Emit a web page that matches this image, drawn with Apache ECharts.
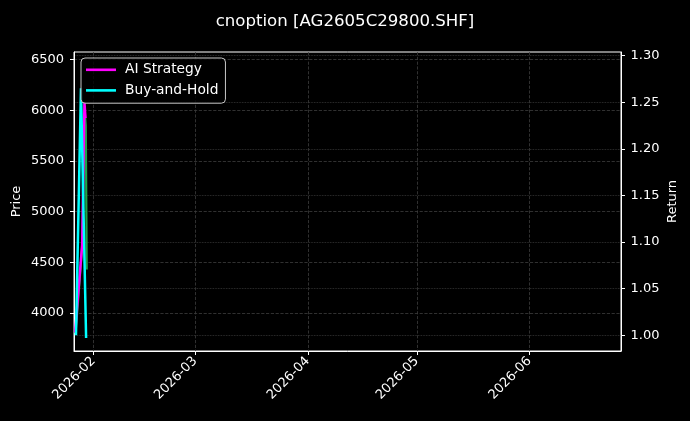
<!DOCTYPE html>
<html>
<head>
<meta charset="utf-8">
<script src="https://cdn.jsdelivr.net/npm/echarts@6/dist/echarts.min.js"></script>
<style>
  html, body { margin: 0; padding: 0; background: #000; }
  #chart { width: 690px; height: 421px; }
</style>
</head>
<body>
<div id="chart"></div>
<script>
// price (left axis)
const priceTimes = ['2026-01-27 02:00', '2026-01-27 18:00', '2026-01-29 00:00', '2026-01-29 14:00', '2026-01-29 22:00', '2026-01-30 04:00']
const priceValues = [3800, 4100, 4700, 6000, 5850, 4430]

// returns (right axis)
const aiTimes = ['2026-01-27 00:00', '2026-01-27 14:00', '2026-01-28 22:00', '2026-01-29 13:00', '2026-01-29 20:00']
const aiValues = [1.003, 1.033, 1.097, 1.25, 1.233]
const bhTimes = ['2026-01-27 05:00', '2026-01-28 14:00', '2026-01-30 00:00']
const bhValues = [1.0, 1.265, 0.997]

// axis ticks
const monthTicks = ['2026-02-01 00:00', '2026-03-01 00:00', '2026-04-01 00:00', '2026-05-01 00:00', '2026-06-01 00:00']
const priceTicks = [4000, 4500, 5000, 5500, 6000, 6500]
const returnTicks = [1.0, 1.05, 1.1, 1.15, 1.2, 1.25, 1.3]

const t = s => new Date(s.replace(' ', 'T')).getTime()
const pairs = (ts, vs) => ts.map((s, i) => [t(s), vs[i]])

const font = 'DejaVu Sans'
const gridLine = { show: true, lineStyle: { color: '#3c3c3c', type: 'dashed', width: 0.8 } }

const chart = echarts.init(document.getElementById('chart'))
chart.setOption({
    backgroundColor: '#000',
    animation: false,
    title: {
        text: 'cnoption [AG2605C29800.SHF]',
        left: 'center',
        top: 8,
        textStyle: { color: '#fff', fontFamily: font, fontSize: 16.6, fontWeight: 'normal' }
    },
    grid: {
        left: 74, right: 69, top: 52, bottom: 70,
        outerBoundsMode: 'none',
        show: true, borderColor: '#fff', borderWidth: 1, backgroundColor: '#000'
    },
    legend: {
        left: 81, top: 58,
        orient: 'vertical',
        icon: 'rect',
        itemWidth: 30, itemHeight: 2.6, itemGap: 5,
        padding: [4, 7, 5, 5],
        backgroundColor: 'rgba(0,0,0,0.8)',
        borderColor: '#c8c8c8', borderWidth: 1, borderRadius: 4,
        data: ['AI Strategy', 'Buy-and-Hold'],
        textStyle: { color: '#fff', fontFamily: font, fontSize: 13.8, lineHeight: 15.6, padding: [0, 0, 0, 4] }
    },
    xAxis: {
        // timestamps on a value axis so the month ticks can be placed exactly
        type: 'value',
        min: t('2026-01-26 16:00'),
        max: t('2026-06-26 05:00'),
        axisLine: { lineStyle: { color: '#fff' } },
        axisTick: { show: true, length: 4, lineStyle: { color: '#fff' }, customValues: monthTicks.map(t) },
        axisLabel: {
            color: '#fff', fontFamily: font, fontSize: 13, rotate: 45, margin: 8,
            customValues: monthTicks.map(t),
            formatter: v => { const d = new Date(v); return d.getFullYear() + '-' + String(d.getMonth() + 1).padStart(2, '0') }
        },
        splitLine: gridLine
    },
    yAxis: [
        {
            type: 'value',
            position: 'left',
            min: 3626, max: 6575,
            name: 'Price', nameLocation: 'middle', nameGap: 51, nameMoveOverlap: false,
            nameTextStyle: { color: '#fff', fontFamily: font, fontSize: 13 },
            axisLine: { show: true, lineStyle: { color: '#fff' } },
            axisTick: { show: true, length: 4, lineStyle: { color: '#fff' }, customValues: priceTicks },
            axisLabel: {
                color: '#fff', fontFamily: font, fontSize: 13, margin: 10, customValues: priceTicks,
                formatter: v => String(v)
            },
            splitLine: gridLine
        },
        {
            type: 'value',
            position: 'right',
            min: 0.983, max: 1.304,
            name: 'Return', nameLocation: 'middle', nameGap: 45, nameRotate: 90, nameMoveOverlap: false,
            nameTextStyle: { color: '#fff', fontFamily: font, fontSize: 13 },
            axisLine: { show: true, lineStyle: { color: '#fff' } },
            axisTick: { show: true, length: 4, lineStyle: { color: '#fff' }, customValues: returnTicks },
            axisLabel: {
                color: '#fff', fontFamily: font, fontSize: 13, margin: 9.5, customValues: returnTicks,
                formatter: v => v.toFixed(2)
            },
            splitLine: { show: true, lineStyle: { color: '#3c3c3c', type: 'dotted', width: 0.8 } }
        }
    ],
    series: [
        {
            name: 'Price', type: 'line', yAxisIndex: 0, symbol: 'none',
            data: pairs(priceTimes, priceValues),
            lineStyle: { color: '#1fa34a', width: 2.2 }, itemStyle: { color: '#1fa34a' }
        },
        {
            name: 'AI Strategy', type: 'line', yAxisIndex: 1, symbol: 'none',
            data: pairs(aiTimes, aiValues),
            lineStyle: { color: '#ff00ff', width: 2.5 }, itemStyle: { color: '#ff00ff' }
        },
        {
            name: 'Buy-and-Hold', type: 'line', yAxisIndex: 1, symbol: 'none',
            data: pairs(bhTimes, bhValues),
            lineStyle: { color: '#00ffff', width: 2.5 }, itemStyle: { color: '#00ffff' }
        }
    ]
})
</script>
</body>
</html>
